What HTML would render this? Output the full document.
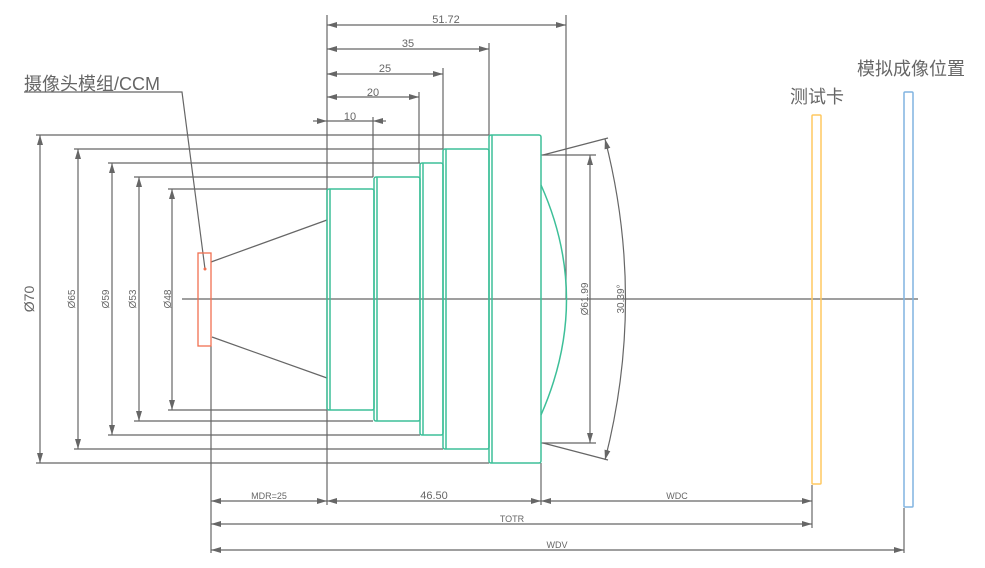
<!DOCTYPE html>
<html><head><meta charset="utf-8"><style>
html,body{margin:0;padding:0;background:#fff}
svg{display:block}
text{font-family:"Liberation Sans","Noto Sans CJK SC",sans-serif;fill:#666}
</style></head><body>
<svg width="985" height="568" viewBox="0 0 985 568" xmlns="http://www.w3.org/2000/svg">
<defs>
<marker id="a" viewBox="0 0 10 6" refX="10" refY="3" markerWidth="10" markerHeight="6" orient="auto-start-reverse" markerUnits="userSpaceOnUse"><path d="M0,0L10,3L0,6z" fill="#666"/></marker>
</defs>
<g stroke="#666" stroke-width="1.2" fill="none">
<!-- axis -->
<line x1="182" y1="299" x2="918" y2="299"/>
<!-- left extension lines -->
<line x1="36" y1="135" x2="489" y2="135"/><line x1="36" y1="463" x2="489" y2="463"/>
<line x1="74" y1="149" x2="443" y2="149"/><line x1="74" y1="449" x2="443" y2="449"/>
<line x1="108" y1="163" x2="420" y2="163"/><line x1="108" y1="435" x2="420" y2="435"/>
<line x1="134" y1="177" x2="373" y2="177"/><line x1="134" y1="421" x2="373" y2="421"/>
<line x1="168" y1="189" x2="327" y2="189"/><line x1="168" y1="410" x2="327" y2="410"/>
<!-- diameter dims -->
<line x1="40" y1="135" x2="40" y2="463" marker-start="url(#a)" marker-end="url(#a)"/>
<line x1="78" y1="149" x2="78" y2="449" marker-start="url(#a)" marker-end="url(#a)"/>
<line x1="112" y1="163" x2="112" y2="435" marker-start="url(#a)" marker-end="url(#a)"/>
<line x1="139" y1="177" x2="139" y2="421" marker-start="url(#a)" marker-end="url(#a)"/>
<line x1="172" y1="189" x2="172" y2="410" marker-start="url(#a)" marker-end="url(#a)"/>
<!-- top extension lines -->
<line x1="327" y1="15" x2="327" y2="505"/>
<line x1="566" y1="15" x2="566" y2="299"/>
<line x1="489" y1="43" x2="489" y2="135"/>
<line x1="443" y1="68" x2="443" y2="149"/>
<line x1="419" y1="92" x2="419" y2="163"/>
<line x1="373" y1="117" x2="373" y2="177"/>
<!-- top dims -->
<line x1="327" y1="25" x2="566" y2="25" marker-start="url(#a)" marker-end="url(#a)"/>
<line x1="327" y1="49" x2="489" y2="49" marker-start="url(#a)" marker-end="url(#a)"/>
<line x1="327" y1="74" x2="443" y2="74" marker-start="url(#a)" marker-end="url(#a)"/>
<line x1="327" y1="97" x2="419" y2="97" marker-start="url(#a)" marker-end="url(#a)"/>
<line x1="313" y1="121" x2="327" y2="121" marker-end="url(#a)"/>
<line x1="386" y1="121" x2="373" y2="121" marker-end="url(#a)"/>
<line x1="327" y1="121" x2="373" y2="121"/>
<!-- sensor rays -->
<line x1="211" y1="262" x2="327" y2="220"/>
<line x1="212" y1="337" x2="327" y2="378"/>
<!-- label leader -->
<polyline points="24,92 182,92 205,269"/>
<!-- right dims -->
<line x1="541" y1="155" x2="596" y2="155"/><line x1="541" y1="443" x2="596" y2="443"/>
<line x1="590" y1="155" x2="590" y2="443" marker-start="url(#a)" marker-end="url(#a)"/>
<line x1="543" y1="155" x2="608" y2="138"/><line x1="543" y1="443" x2="608" y2="460"/>
<path d="M605,139 Q646,299 605,460" marker-start="url(#a)" marker-end="url(#a)"/>
<!-- bottom ext -->
<line x1="211" y1="346" x2="211" y2="553"/>
<line x1="541" y1="463" x2="541" y2="505"/>
<line x1="812" y1="485" x2="812" y2="528"/>
<line x1="904" y1="508" x2="904" y2="553"/>
<!-- bottom dims -->
<line x1="211" y1="501" x2="327" y2="501" marker-start="url(#a)" marker-end="url(#a)"/>
<line x1="327" y1="501" x2="541" y2="501" marker-start="url(#a)" marker-end="url(#a)"/>
<line x1="541" y1="501" x2="812" y2="501" marker-start="url(#a)" marker-end="url(#a)"/>
<line x1="211" y1="524" x2="812" y2="524" marker-start="url(#a)" marker-end="url(#a)"/>
<line x1="211" y1="550" x2="904" y2="550" marker-start="url(#a)" marker-end="url(#a)"/>
</g>
<!-- lens barrels -->
<g stroke="#3dbf98" stroke-width="1.5" fill="none">
<rect x="327" y="189" width="47" height="221" rx="2"/><line x1="330" y1="189" x2="330" y2="410"/>
<rect x="374" y="177" width="46" height="244" rx="2"/><line x1="377" y1="177" x2="377" y2="421"/>
<rect x="420" y="163" width="23" height="272" rx="2"/><line x1="423" y1="163" x2="423" y2="435"/>
<rect x="443" y="149" width="46" height="300" rx="2"/><line x1="446" y1="149" x2="446" y2="449"/>
<rect x="489" y="135" width="52" height="328" rx="2"/><line x1="492" y1="135" x2="492" y2="463"/>
<path d="M541,185 Q592,299 541,415"/>
</g>
<rect x="198" y="253" width="13" height="93" fill="none" stroke="#f07050" stroke-width="1.3"/>
<circle cx="205" cy="269" r="1.5" fill="#f07050"/>
<rect x="812" y="115" width="9" height="369" rx="1" fill="none" stroke="#ffc860" stroke-width="1.5"/>
<rect x="904" y="92" width="9" height="415" rx="1" fill="none" stroke="#80b4e0" stroke-width="1.5"/>
<!-- texts -->
<text x="24" y="90" font-size="18">摄像头模组/CCM</text>
<text x="790" y="103" font-size="18">测试卡</text>
<text x="857" y="75" font-size="18">模拟成像位置</text>
<text x="446" y="23" font-size="11" text-anchor="middle">51.72</text>
<text x="408" y="47" font-size="11" text-anchor="middle">35</text>
<text x="385" y="72" font-size="11" text-anchor="middle">25</text>
<text x="373" y="96" font-size="11" text-anchor="middle">20</text>
<text x="350" y="120" font-size="11" text-anchor="middle">10</text>
<text transform="translate(34,299) rotate(-90)" font-size="14" text-anchor="middle">Ø70</text>
<text transform="translate(75,299) rotate(-90)" font-size="10" text-anchor="middle">Ø65</text>
<text transform="translate(109,299) rotate(-90)" font-size="10" text-anchor="middle">Ø59</text>
<text transform="translate(136,299) rotate(-90)" font-size="10" text-anchor="middle">Ø53</text>
<text transform="translate(171,299) rotate(-90)" font-size="10" text-anchor="middle">Ø48</text>
<text transform="translate(588,299) rotate(-90)" font-size="10" text-anchor="middle">Ø61.99</text>
<text transform="translate(624,299) rotate(-90)" font-size="10" text-anchor="middle">30.39°</text>
<text x="269" y="499" font-size="9" text-anchor="middle">MDR=25</text>
<text x="434" y="499" font-size="11" text-anchor="middle">46.50</text>
<text x="677" y="499" font-size="9" text-anchor="middle">WDC</text>
<text x="512" y="522" font-size="9" text-anchor="middle">TOTR</text>
<text x="557" y="548" font-size="9" text-anchor="middle">WDV</text>
</svg>
</body></html>
